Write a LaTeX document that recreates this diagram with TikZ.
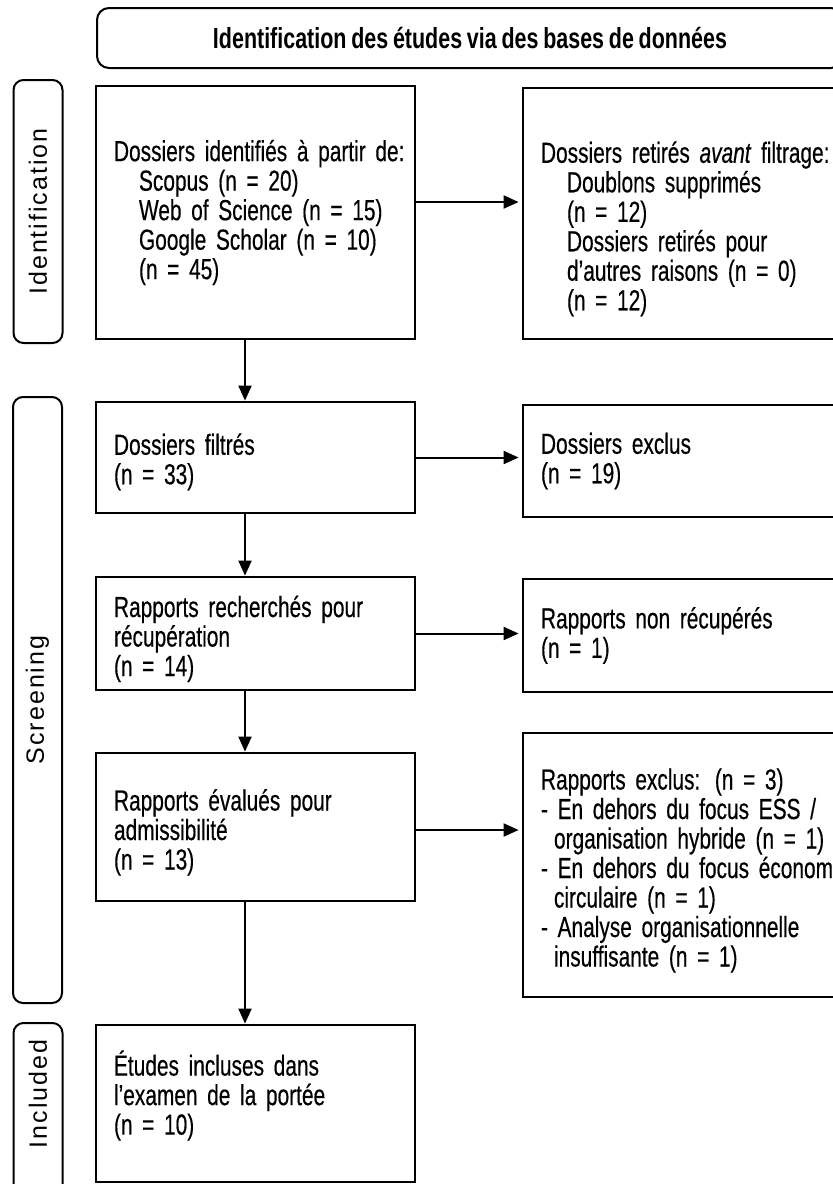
\documentclass[tikz,border=0pt]{standalone}
\usepackage{fontspec}
\setmainfont{Liberation Sans}[FakeStretch=0.72, FakeBold=0.4]
\newfontfamily\hdrfont{Liberation Sans}[FakeStretch=0.74, WordSpace=0.8]
\newfontfamily\labelfont{Liberation Sans}[LetterSpace=8]
\usetikzlibrary{arrows.meta}
\newcommand\toppad[1]{\rule{0pt}{#1}}
\newcommand\tightsp{\spaceskip=5pt plus 1pt minus 0.5pt\relax\xspaceskip=5pt\relax}
\begin{document}
\begin{tikzpicture}[x=1pt,y=-1pt,
  box/.style={draw, line width=2.8pt, rectangle, align=left, inner xsep=18pt, inner ysep=0pt,
    font=\fontsize{29}{29.5}\selectfont\tightsp},
  lbox/.style={draw, line width=2pt, rounded corners=10pt, rotate=90, minimum height=49pt,
    inner sep=0pt, font=\labelfont\fontsize{25}{27}\selectfont},
  hdr/.style={draw, line width=2pt, rounded corners=12pt, minimum width=746pt, minimum height=60pt,
    inner sep=0pt, font=\hdrfont\bfseries\fontsize{29}{30}\selectfont},
  arr/.style={line width=2pt, -{Triangle[length=15pt,width=13pt]}},
]
\useasboundingbox (0,0) rectangle (833,1184);
\fill[white] (0,0) rectangle (833,1184);
\clip (0,0) rectangle (833,1184);

% header
\node[hdr] (head) at (470,38) {Identification des études via des bases de données};

% phase labels
\node[lbox, minimum width=263pt] (lid) at (38,211.5) {Identification};
\node[lbox, minimum width=606pt] (lsc) at (37.5,700) {Screening};
\node[lbox, minimum width=172pt] (lin) at (38,1109) {};
\node[rotate=90, font=\labelfont\fontsize{25}{27}\selectfont, inner sep=0pt] (linc) at (38,1094) {Included};

% left column
\node[box, text width=283pt, minimum height=253pt] (A) at (255.5,212.5)
  {\mbox{Dossiers identifiés à partir de:}\\
   \hspace*{25pt}\mbox{Scopus (n = 20)}\\
   \hspace*{25pt}\mbox{Web of Science (n = 15)}\\
   \hspace*{25pt}\mbox{Google Scholar (n = 10)}\\
   \hspace*{25pt}(n = 45)};
\node[box, text width=283pt, minimum height=111pt] (C) at (255.5,457.5)
  {\toppad{30pt}Dossiers filtrés\\(n = 33)};
\node[box, text width=283pt, minimum height=113pt] (E) at (255.5,633.5)
  {\toppad{32pt}\mbox{Rapports recherchés pour}\\récupération\\(n = 14)};
\node[box, text width=283pt, minimum height=148pt] (G) at (255.5,827)
  {\toppad{32pt}\mbox{Rapports évalués pour}\\admissibilité\\(n = 13)};
\node[box, text width=283pt, minimum height=157pt] (I) at (255.5,1103.5)
  {\mbox{Études incluses dans}\\\mbox{l’examen de la portée}\\(n = 10)\rule[-22pt]{0pt}{1pt}};

% right column
\node[box, text width=322pt, minimum height=251pt] (B) at (702,213.5)
  {\toppad{52pt}\mbox{Dossiers retirés \textit{avant} filtrage:}\\
   \hspace*{26pt}\mbox{Doublons supprimés}\\
   \hspace*{26pt}(n = 12)\\
   \hspace*{26pt}\mbox{Dossiers retirés pour}\\
   \hspace*{26pt}\mbox{d’autres raisons (n = 0)}\\
   \hspace*{26pt}(n = 12)};
\node[box, text width=322pt, minimum height=112pt] (D) at (702,461)
  {Dossiers exclus\\(n = 19)};
\node[box, text width=322pt, minimum height=113pt] (F) at (702,635.5)
  {\mbox{Rapports non récupérés}\\(n = 1)};
\node[box, text width=322pt, minimum height=264pt] (H) at (702,865)
  {\toppad{32pt}\mbox{Rapports exclus: (n = 3)}\\
   \mbox{- En dehors du focus ESS /}\\
   \hspace*{13pt}\mbox{organisation hybride (n = 1)}\\
   \mbox{- En dehors du focus économie}\\
   \hspace*{13pt}\mbox{circulaire (n = 1)}\\
   \mbox{- Analyse organisationnelle}\\
   \hspace*{13pt}\mbox{insuffisante (n = 1)}};

% connectors
\coordinate (col) at (245,0);
\draw[arr] (A.south -| col) -- (C.north -| col);
\draw[arr] (C.south -| col) -- (E.north -| col);
\draw[arr] (E.south -| col) -- (G.north -| col);
\draw[arr] (G.south -| col) -- (I.north -| col);

\draw[arr, shorten >=3pt] ([yshift=10.5pt]A.east) -- ([yshift=10.5pt]A.east -| B.west);
\draw[arr, shorten >=3pt] (C.east) -- (C.east -| D.west);
\draw[arr, shorten >=3pt] (E.east) -- (E.east -| F.west);
\draw[arr, shorten >=3pt] ([yshift=-3pt]G.east) -- ([yshift=-3pt]G.east -| H.west);
\end{tikzpicture}
\end{document}
